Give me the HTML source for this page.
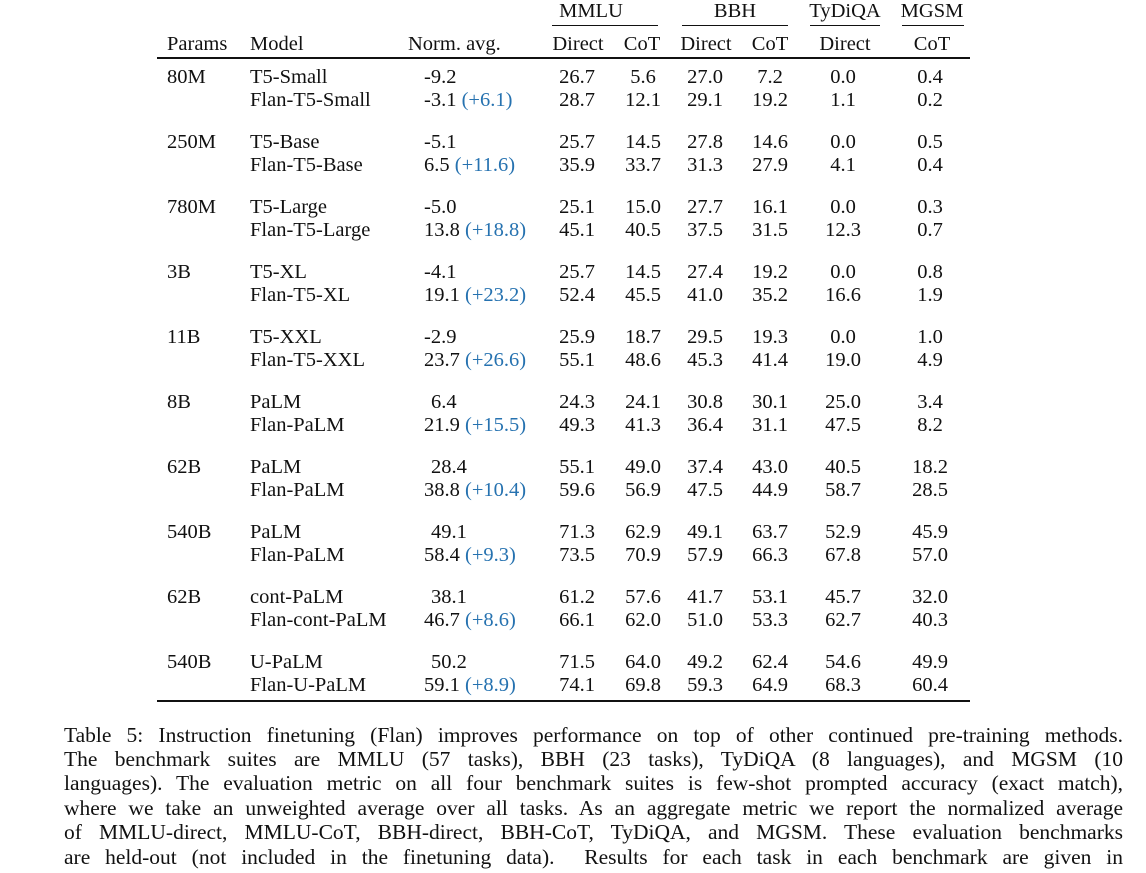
<!DOCTYPE html>
<html><head><meta charset="utf-8"><style>
body{margin:0;width:1146px;height:873px;background:#fff;position:relative;overflow:hidden;font-family:"Liberation Serif",serif;font-size:20.5px;color:#111}
.t{position:absolute;white-space:nowrap;line-height:20px}
.c{transform:translateX(-50%)}
.b{color:#2672b0}
.r{position:absolute;background:#111}
.cap{position:absolute;left:64px;width:1059px;text-align:justify;text-align-last:justify;white-space:nowrap;font-size:21.5px;line-height:20px}
</style></head><body>
<div class="t c" style="left:591px;top:1px">MMLU</div>
<div class="t c" style="left:735px;top:1px">BBH</div>
<div class="t c" style="left:845px;top:1px">TyDiQA</div>
<div class="t c" style="left:932px;top:1px">MGSM</div>
<div class="r" style="left:552px;top:25px;width:106px;height:1px"></div>
<div class="r" style="left:682px;top:25px;width:106px;height:1px"></div>
<div class="r" style="left:810px;top:25px;width:70px;height:1px"></div>
<div class="r" style="left:902px;top:25px;width:62px;height:1px"></div>
<div class="t" style="left:167px;top:34px">Params</div>
<div class="t" style="left:250px;top:34px">Model</div>
<div class="t" style="left:408px;top:34px">Norm. avg.</div>
<div class="t c" style="left:578px;top:34px">Direct</div>
<div class="t c" style="left:642px;top:34px">CoT</div>
<div class="t c" style="left:706px;top:34px">Direct</div>
<div class="t c" style="left:770px;top:34px">CoT</div>
<div class="t c" style="left:845px;top:34px">Direct</div>
<div class="t c" style="left:932px;top:34px">CoT</div>
<div class="r" style="left:157px;top:57px;width:813px;height:1.5px"></div>
<div class="r" style="left:157px;top:700px;width:813px;height:1.5px"></div>
<div id="rows"></div>
<div class="cap" style="top:725px">Table 5: Instruction finetuning (Flan) improves performance on top of other continued pre-training methods.</div>
<div class="cap" style="top:749px">The benchmark suites are MMLU (57 tasks), BBH (23 tasks), TyDiQA (8 languages), and MGSM (10</div>
<div class="cap" style="top:773px">languages). The evaluation metric on all four benchmark suites is few-shot prompted accuracy (exact match),</div>
<div class="cap" style="top:798px">where we take an unweighted average over all tasks. As an aggregate metric we report the normalized average</div>
<div class="cap" style="top:822px">of MMLU-direct, MMLU-CoT, BBH-direct, BBH-CoT, TyDiQA, and MGSM. These evaluation benchmarks</div>
<div class="cap" style="top:847px">are held-out (not included in the finetuning data). &nbsp;Results for each task in each benchmark are given in</div>
<script>
var d=[
["80M","T5-Small","-9.2","","26.7","5.6","27.0","7.2","0.0","0.4","Flan-T5-Small","-3.1","+6.1","28.7","12.1","29.1","19.2","1.1","0.2"],
["250M","T5-Base","-5.1","","25.7","14.5","27.8","14.6","0.0","0.5","Flan-T5-Base","6.5","+11.6","35.9","33.7","31.3","27.9","4.1","0.4"],
["780M","T5-Large","-5.0","","25.1","15.0","27.7","16.1","0.0","0.3","Flan-T5-Large","13.8","+18.8","45.1","40.5","37.5","31.5","12.3","0.7"],
["3B","T5-XL","-4.1","","25.7","14.5","27.4","19.2","0.0","0.8","Flan-T5-XL","19.1","+23.2","52.4","45.5","41.0","35.2","16.6","1.9"],
["11B","T5-XXL","-2.9","","25.9","18.7","29.5","19.3","0.0","1.0","Flan-T5-XXL","23.7","+26.6","55.1","48.6","45.3","41.4","19.0","4.9"],
["8B","PaLM","6.4","","24.3","24.1","30.8","30.1","25.0","3.4","Flan-PaLM","21.9","+15.5","49.3","41.3","36.4","31.1","47.5","8.2"],
["62B","PaLM","28.4","","55.1","49.0","37.4","43.0","40.5","18.2","Flan-PaLM","38.8","+10.4","59.6","56.9","47.5","44.9","58.7","28.5"],
["540B","PaLM","49.1","","71.3","62.9","49.1","63.7","52.9","45.9","Flan-PaLM","58.4","+9.3","73.5","70.9","57.9","66.3","67.8","57.0"],
["62B","cont-PaLM","38.1","","61.2","57.6","41.7","53.1","45.7","32.0","Flan-cont-PaLM","46.7","+8.6","66.1","62.0","51.0","53.3","62.7","40.3"],
["540B","U-PaLM","50.2","","71.5","64.0","49.2","62.4","54.6","49.9","Flan-U-PaLM","59.1","+8.9","74.1","69.8","59.3","64.9","68.3","60.4"]];
var cx=[577,643,705,770,843,930],h="";
d.forEach(function(r,i){var y=67+i*65,y2=y+23;
h+='<div class="t" style="left:167px;top:'+y+'px">'+r[0]+'</div><div class="t" style="left:250px;top:'+y+'px">'+r[1]+'</div><div class="t" style="left:'+(r[2][0]=="-"?424:431)+'px;top:'+y+'px">'+r[2]+'</div>';
for(var k=0;k<6;k++)h+='<div class="t c" style="left:'+cx[k]+'px;top:'+y+'px">'+r[4+k]+'</div>';
h+='<div class="t" style="left:250px;top:'+y2+'px">'+r[10]+'</div><div class="t" style="left:424px;top:'+y2+'px">'+r[11]+' <span class="b">('+r[12]+')</span></div>';
for(var k=0;k<6;k++)h+='<div class="t c" style="left:'+cx[k]+'px;top:'+y2+'px">'+r[13+k]+'</div>';});
document.getElementById("rows").innerHTML=h;
</script>
</body></html>
